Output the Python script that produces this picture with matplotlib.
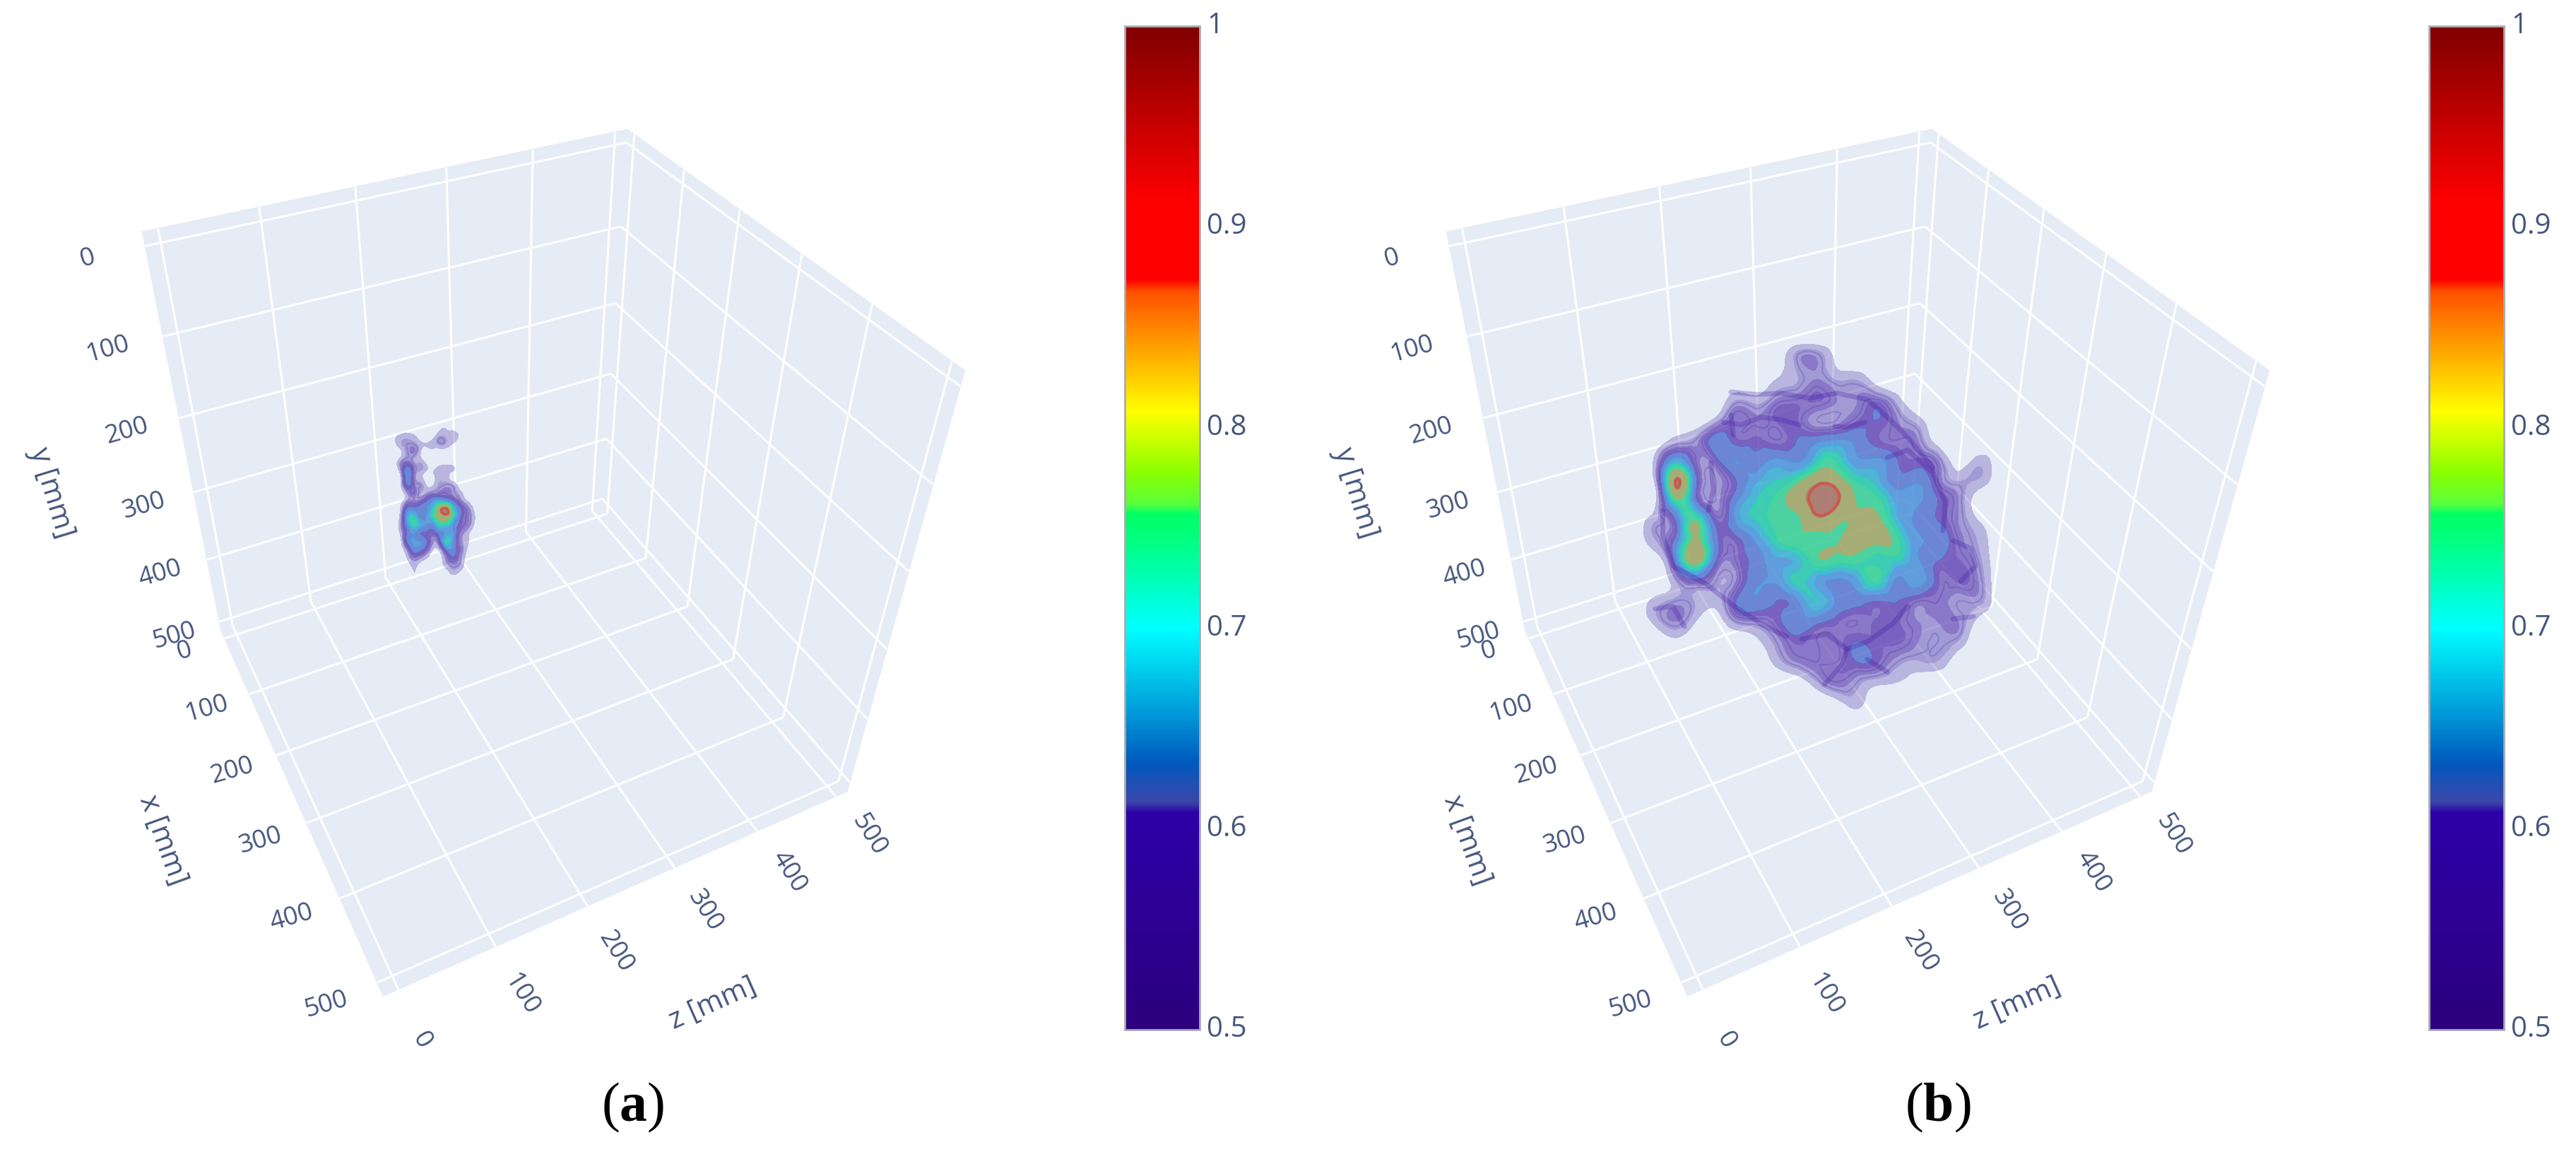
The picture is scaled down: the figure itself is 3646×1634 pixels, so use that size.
import numpy as np
import matplotlib
matplotlib.use('Agg')
import matplotlib.pyplot as plt
import matplotlib.tri as mtri
from matplotlib.colors import LinearSegmentedColormap
from matplotlib.patches import Polygon, Rectangle

plt.rcParams['font.family'] = ['Open Sans', 'DejaVu Sans']
plt.rcParams['mathtext.fontset'] = 'custom'
plt.rcParams['mathtext.bf'] = 'Liberation Serif:bold'
plt.rcParams['mathtext.rm'] = 'Liberation Serif'

# axis ticks and limits (mm)
ticks = [0, 100, 200, 300, 400, 500]
axis_lo, axis_hi = -15, 515
cbar_ticks = [0.5, 0.6, 0.7, 0.8, 0.9, 1.0]
cbar_labels = ['0.5', '0.6', '0.7', '0.8', '0.9', '1']

# colour scale stops
scale_values = [0.5, 0.608, 0.613, 0.633, 0.66, 0.70, 0.744, 0.757, 0.762, 0.778, 0.808, 0.868, 0.874, 0.912, 1.0]
scale_colors = ['#2d007d', '#2c00a8', '#3c46aa', '#005abe', '#00a0dc', '#00ffff', '#00ff80', '#00ff64',
                '#5aff3c', '#8cff00', '#ffff00', '#ff5000', '#ff0000', '#ff0000', '#800000']

# intensity seen through the volume, panel a (hundredths)
field_a = [
    [40, 40, 40, 40, 40, 40, 42, 46, 42, 40, 40, 40],
    [40, 47, 49, 47, 40, 40, 49, 50, 50, 44, 40, 40],
    [40, 48, 52, 52, 47, 48, 50, 50, 45, 40, 40, 40],
    [40, 42, 51, 54, 44, 40, 40, 40, 40, 40, 40, 40],
    [40, 47, 54, 50, 47, 40, 40, 40, 40, 40, 40, 40],
    [40, 47, 62, 54, 51, 45, 47, 49, 47, 40, 40, 40],
    [40, 40, 63, 53, 46, 40, 49, 49, 42, 40, 40, 40],
    [40, 40, 60, 55, 51, 42, 50, 52, 50, 40, 40, 40],
    [40, 40, 50, 56, 50, 52, 54, 56, 53, 47, 40, 40],
    [40, 40, 50, 54, 56, 62, 68, 66, 60, 52, 44, 40],
    [40, 42, 60, 62, 62, 68, 80, 88, 72, 60, 52, 42],
    [40, 44, 66, 72, 62, 70, 80, 84, 74, 60, 54, 44],
    [40, 46, 64, 74, 68, 64, 72, 74, 66, 58, 53, 42],
    [40, 44, 60, 66, 60, 58, 62, 66, 66, 54, 47, 40],
    [40, 40, 60, 66, 64, 56, 54, 72, 66, 52, 46, 40],
    [40, 40, 52, 64, 62, 52, 46, 62, 64, 54, 44, 40],
    [40, 40, 46, 56, 52, 44, 40, 52, 60, 52, 42, 40],
    [40, 40, 42, 48, 42, 40, 42, 48, 54, 50, 40, 40],
    [40, 40, 40, 46, 40, 40, 40, 42, 48, 44, 40, 40],
    [40, 40, 40, 45, 40, 42, 40, 40, 40, 40, 40, 40],
]

# intensity seen through the volume, panel b (hundredths)
field_b = [
    [40, 40, 40, 40, 40, 40, 40, 40, 40, 40, 40, 40, 40, 40, 40, 40, 40, 40, 40],
    [40, 40, 40, 40, 40, 40, 40, 42, 52, 54, 44, 40, 40, 40, 40, 40, 40, 40, 40],
    [40, 40, 40, 40, 40, 40, 40, 46, 50, 54, 50, 50, 42, 40, 40, 40, 40, 40, 40],
    [40, 40, 40, 40, 40, 50, 48, 54, 56, 58, 54, 54, 56, 48, 40, 40, 40, 40, 40],
    [40, 40, 40, 40, 48, 57, 55, 58, 58, 52, 52, 57, 60, 54, 48, 40, 40, 40, 40],
    [40, 40, 48, 52, 63, 58, 58, 56, 60, 63, 65, 63, 58, 56, 54, 42, 40, 40, 40],
    [40, 48, 68, 56, 58, 65, 62, 66, 64, 72, 74, 66, 66, 60, 58, 54, 42, 48, 40],
    [40, 48, 87, 62, 52, 60, 68, 72, 76, 84, 82, 74, 70, 62, 64, 56, 50, 50, 40],
    [40, 44, 76, 62, 52, 64, 72, 76, 82, 90, 88, 78, 76, 68, 66, 60, 54, 42, 40],
    [40, 50, 60, 78, 58, 66, 72, 76, 77, 84, 80, 80, 80, 70, 64, 60, 54, 46, 40],
    [40, 50, 62, 80, 62, 58, 66, 74, 77, 76, 78, 80, 80, 76, 66, 64, 56, 50, 40],
    [40, 42, 62, 82, 60, 56, 62, 68, 70, 77, 76, 76, 74, 72, 66, 60, 58, 52, 40],
    [40, 40, 50, 58, 52, 54, 64, 66, 73, 68, 64, 68, 75, 64, 68, 58, 58, 54, 40],
    [40, 48, 52, 50, 48, 60, 64, 60, 64, 72, 64, 62, 60, 60, 56, 56, 52, 52, 40],
    [40, 48, 54, 46, 42, 52, 54, 58, 64, 62, 58, 56, 58, 58, 54, 54, 54, 44, 40],
    [40, 40, 44, 40, 40, 40, 44, 52, 58, 56, 56, 60, 58, 58, 54, 52, 50, 40, 40],
    [40, 40, 40, 40, 40, 40, 40, 48, 54, 56, 56, 60, 58, 52, 50, 50, 42, 40, 40],
    [40, 40, 40, 40, 40, 40, 40, 40, 42, 50, 56, 52, 48, 46, 42, 40, 40, 40, 40],
    [40, 40, 40, 40, 40, 40, 40, 40, 40, 40, 44, 48, 40, 40, 40, 40, 40, 40, 40],
    [40, 40, 40, 40, 40, 40, 40, 40, 40, 40, 40, 40, 40, 40, 40, 40, 40, 40, 40],
]

# darker folds of the shell in panel b, as seen in the picture
folds_b = [
    [(390, 330), (460, 340), (540, 310), (620, 320), (690, 340)],
    [(420, 210), (520, 220), (620, 215), (730, 235), (840, 215), (960, 240), (1050, 320), (1130, 400), (1220, 510)],
    [(830, 345), (880, 350), (950, 330)],
    [(340, 490), (350, 600), (330, 680)],
    [(150, 680), (150, 780), (190, 900), (320, 970), (420, 1050), (540, 1130), (640, 1180)],
    [(700, 1190), (800, 1170), (880, 1230), (860, 1290), (790, 1370)],
    [(880, 1230), (960, 1200), (1060, 1130), (1120, 1060)],
    [(1300, 800), (1370, 830), (1390, 900), (1330, 960)],
    [(120, 1070), (190, 1060), (235, 1140)],
    [(1300, 1110), (1380, 1100)],
    [(1040, 470), (1120, 440), (1220, 530), (1270, 650), (1260, 760)],
    [(960, 1270), (1040, 1320)],
    [(420, 300), (430, 380)],
]

# translucent shells: lower bound, upper bound, colour, opacity
bands = [
    (0.46, 2.00, '#6a55b8', 0.36),
    (0.505, 2.00, '#6a55b8', 0.28),
    (0.54, 0.60, '#4a20a8', 0.28),
    (0.575, 0.60, '#4a20a8', 0.25),
    (0.60, 0.65, '#3f78d4', 0.55),
    (0.65, 0.69, '#3a9ee2', 0.62),
    (0.69, 0.72, '#22c4d8', 0.64),
    (0.72, 0.75, '#18e0a8', 0.72),
    (0.75, 0.785, '#30e490', 0.75),
    (0.785, 0.86, '#a8b25a', 0.78),
    (0.86, 2.00, '#b07a62', 0.85),
]

PANEL_SHIFT = 1846
WALL = '#e5ecf6'
INK = '#45557d'

fig = plt.figure(figsize=(36.46, 16.34), dpi=100, facecolor='white')
ax = fig.add_axes([0, 0, 1, 1])

jetish = LinearSegmentedColormap.from_list(
    'iso', [((v - 0.5) / 0.5, c) for v, c in zip(scale_values, scale_colors)], N=512)


# camera: fitted to the box corners seen in the picture
def fit_camera():
    lo, hi = axis_lo, axis_hi
    world = [(lo, lo, lo), (lo, hi, lo), (hi, hi, lo), (hi, hi, hi), (hi, lo, hi), (lo, lo, hi), (lo, hi, hi)]
    screen = [(198, 324), (317, 898), (540, 1407), (1204, 1123), (1362, 525), (893, 186), (846, 714)]
    rows = []
    for (x, y, z), (u, v) in zip(world, screen):
        rows.append([x, y, z, 1, 0, 0, 0, 0, -u * x, -u * y, -u * z, -u])
        rows.append([0, 0, 0, 0, x, y, z, 1, -v * x, -v * y, -v * z, -v])
    return np.linalg.svd(np.array(rows, float))[2][-1].reshape(3, 4)


camera = fit_camera()


def project(x, y, z, shift=0):
    u, v, w = camera @ np.array([x, y, z, 1.0])
    return u / w + shift, v / w


def draw_box(shift):
    lo, hi = axis_lo, axis_hi
    faces = [
        [(lo, lo, lo), (lo, hi, lo), (lo, hi, hi), (lo, lo, hi)],
        [(lo, lo, hi), (lo, hi, hi), (hi, hi, hi), (hi, lo, hi)],
        [(lo, hi, lo), (hi, hi, lo), (hi, hi, hi), (lo, hi, hi)],
    ]
    for face in faces:
        pts = [project(*p, shift) for p in face]
        ax.add_patch(Polygon(pts, closed=True, fc=WALL, ec=WALL, lw=1, zorder=1))

    def grid_line(p, q):
        a, b = project(*p, shift), project(*q, shift)
        ax.plot([a[0], b[0]], [a[1], b[1]], color='white', lw=2.2, zorder=2, solid_capstyle='butt')

    for t in ticks:
        grid_line((lo, t, lo), (lo, t, hi))   # back wall
        grid_line((lo, lo, t), (lo, hi, t))
        grid_line((lo, t, hi), (hi, t, hi))   # side wall
        grid_line((t, lo, hi), (t, hi, hi))
        grid_line((t, hi, lo), (t, hi, hi))   # floor
        grid_line((lo, hi, t), (hi, hi, t))

    for t in ticks:
        u, v = project(lo, t, -70, shift)
        ax.text(u, v, str(t), color=INK, fontsize=26, rotation=16, ha='center', va='center', zorder=5)
        u, v = project(t, hi, -65, shift)
        ax.text(u, v, str(t), color=INK, fontsize=26, rotation=16, ha='center', va='center', zorder=5)
        u, v = project(570, hi, t, shift)
        ax.text(u, v, str(t), color=INK, fontsize=26, rotation=-58, ha='center', va='center', zorder=5)

    ax.text(73 + shift, 698, 'y [mm]', color=INK, fontsize=29, rotation=-73, ha='center', va='center', zorder=5)
    ax.text(230 + shift, 1190, 'x [mm]', color=INK, fontsize=29, rotation=-70, ha='center', va='center', zorder=5)
    ax.text(1009 + shift, 1422, 'z [mm]', color=INK, fontsize=29, rotation=24, ha='center', va='center', zorder=5)


def draw_volume(field, x0, x1, y0, y1):
    values = np.array(field) / 100
    xs, ys = np.meshgrid(np.linspace(x0, x1, values.shape[1]), np.linspace(y0, y1, values.shape[0]))
    tri = mtri.Triangulation(xs.ravel(), ys.ravel())
    fine_tri, fine_vals = mtri.UniformTriRefiner(tri).refine_field(values.ravel(), subdiv=3)
    for lo, hi, col, alpha in bands:
        cs = ax.tricontourf(fine_tri, fine_vals, levels=[lo, hi], colors=[col], alpha=alpha, zorder=3)
        cs.set_edgecolor('none')
    ax.tricontour(fine_tri, fine_vals, levels=[0.52, 0.56], colors=['#3c1ea0'],
                  linewidths=1.5, alpha=0.22, zorder=3)
    ax.tricontour(fine_tri, fine_vals, levels=[0.87], colors=['#e04030'], linewidths=2.5, alpha=0.6, zorder=3)


def draw_folds(folds):
    for fold in folds:
        ax.plot([2300 + p[0] / 2.8 for p in fold], [480 + p[1] / 2.8 for p in fold],
                color='#3a10a0', lw=5, alpha=0.26, zorder=3, solid_capstyle='round', solid_joinstyle='round')


def draw_colorbar(shift):
    grad = np.linspace(1, 0.5, 512).reshape(-1, 1)
    ax.imshow(grad, cmap=jetish, vmin=0.5, vmax=1, aspect='auto', zorder=3,
              extent=(1592 + shift, 1698 + shift, 1458, 37))
    ax.add_patch(Rectangle((1592 + shift, 37), 106, 1421, fc='none', ec='#a8aab0', lw=2, zorder=4))
    for t, lab in zip(cbar_ticks, cbar_labels):
        v = 1458 - (t - 0.5) / 0.5 * 1421
        ax.text(1708 + shift, v, lab, color=INK, fontsize=29, ha='left', va='center', zorder=5)


draw_box(0)
draw_box(PANEL_SHIFT)
draw_volume(field_a, 520 + 100 / 3, 520 + 463 / 3, 580 + 80 / 3, 580 + 726 / 3)
draw_volume(field_b, 2300 + 40 / 2.8, 2300 + 1480 / 2.8, 480, 480 + 1520 / 2.8)
draw_folds(folds_b)
draw_colorbar(0)
draw_colorbar(PANEL_SHIFT)

ax.text(896, 1568, r'($\mathbf{a}$)', fontsize=56, family='Liberation Serif', ha='center', va='center')
ax.text(896 + 1847, 1568, r'($\mathbf{b}$)', fontsize=56, family='Liberation Serif', ha='center', va='center')

ax.set_xlim(0, 3646)
ax.set_ylim(1634, 0)
ax.axis('off')

fig.savefig('out.png', dpi=100, facecolor='white')
